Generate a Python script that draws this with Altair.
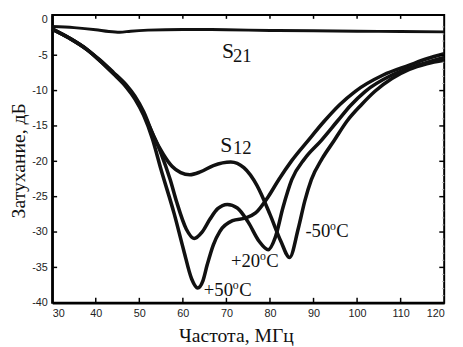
import altair as alt
import pandas as pd

# ---- data ----
F_M50 = [30, 34, 38, 41, 44, 47, 49, 51, 53.4, 55.5, 57.5, 59.5, 61.6, 64, 67, 71, 74, 77, 80, 82.5,
         84.5, 86.5, 88, 89.5, 92, 94.7, 97.7, 101, 104.1, 108, 112, 116, 120]
V_M50 = [-1.3, -2.6, -4.2, -5.7, -7.4, -9.2, -10.8, -13.0, -16.6, -19.0, -20.7, -21.6, -21.9, -21.5,
         -20.6, -20.1, -20.9, -23.4, -27.5, -31.3, -33.6, -29.5, -25.6, -22.6, -19.6, -17.1, -14.3,
         -12.0, -10.1, -8.3, -7.0, -6.2, -5.7]

F_P20 = [30, 34, 38, 41, 44, 47, 49, 51, 53, 55, 57.1, 58.6, 60.8, 62.6, 64.4, 66.2, 68, 70.2, 72.5,
         75, 77.5, 79.6, 81.2, 83, 85, 88, 91.7, 95.5, 98.5, 101.9, 108, 114.5, 120]
V_P20 = [-1.3, -2.6, -4.2, -5.8, -7.5, -9.4, -11.0, -13.3, -16.0, -18.9, -22.6, -25.8, -29.6, -30.9,
         -30.0, -28.2, -26.7, -26.1, -26.6, -28.6, -31.3, -32.5, -30.8, -26.5, -22.6, -19.6, -17.1,
         -14.3, -12.1, -10.1, -7.8, -6.3, -5.3]

F_P50 = [30, 34, 38, 41, 44, 47, 49, 51, 53, 55, 58, 60.2, 62, 63.4, 64.6, 65.6, 67, 68.5, 71.4, 74.4,
         76.7, 79.6, 82, 85, 88.7, 92.5, 96, 99.6, 106, 112, 116, 120]
V_P50 = [-1.3, -2.6, -4.2, -5.8, -7.6, -9.5, -11.2, -13.5, -16.8, -21.2, -27.4, -32.6, -36.6, -37.9,
         -36.9, -34.6, -31.8, -29.9, -28.4, -28.0, -27.3, -25.0, -22.6, -19.9, -17.1, -14.3, -12.0,
         -10.1, -7.8, -6.4, -5.5, -4.8]

F_S21 = [30, 35, 40, 43, 45.5, 48, 52, 60, 70, 80, 90, 100, 110, 120]
V_S21 = [-0.95, -1.1, -1.4, -1.65, -1.75, -1.6, -1.45, -1.35, -1.4, -1.5, -1.55, -1.6, -1.65, -1.7]

X_TICKS = [30, 40, 50, 60, 70, 80, 90, 100, 110, 120]
Y_TICKS = [0, -5, -10, -15, -20, -25, -30, -35, -40]
Y_MINOR = [v for v in range(0, -41, -1) if v % 5 != 0]

X_TITLE = "Частота, МГц"
Y_TITLE = "Затухание, дБ"

# ---- chart ----
W, H = 399, 293
XS = alt.Scale(domain=[30, 120], nice=False, zero=False)
YS = alt.Scale(domain=[-40, 0.7], nice=False, zero=False)
INK = "#111111"

rows = []
for name, fs, vs in [("-50", F_M50, V_M50), ("+20", F_P20, V_P20), ("+50", F_P50, V_P50)]:
    rows += [{"series": name, "f": f, "v": v} for f, v in zip(fs, vs)]
s12_df = pd.DataFrame(rows)
s21_df = pd.DataFrame({"f": F_S21, "v": V_S21})

x_axis = alt.Axis(values=X_TICKS, ticks=False, grid=False, domain=True, domainColor="black",
                  domainWidth=2.5, labelFont="Liberation Sans", labelFontSize=11, labelColor="#222",
                  labelPadding=5, title=X_TITLE, titleFont="Liberation Serif", titleFontSize=20,
                  titleFontWeight="normal", titleColor=INK, titleX=187, titleY=39,
                  titleBaseline="alphabetic", titleAlign="center")
y_axis = alt.Axis(values=Y_TICKS, ticks=False, grid=False, domain=True, domainColor="black",
                  domainWidth=2.5, labelFont="Liberation Sans", labelFontSize=11, labelColor="#222",
                  labelPadding=5, labelExpr="'' + datum.value", title=Y_TITLE,
                  titleFont="Liberation Serif", titleFontSize=20, titleFontWeight="normal",
                  titleColor=INK, titleX=-28, titleY=148, titleBaseline="alphabetic",
                  titleAlign="center")

def X(field):
    return alt.X(field, scale=XS, axis=x_axis)

def Y(field):
    return alt.Y(field, scale=YS, axis=y_axis)

s12 = alt.Chart(s12_df).mark_line(color=INK, strokeWidth=3.6, interpolate="monotone").encode(
    x=X("f:Q"), y=Y("v:Q"), detail="series:N")
s21 = alt.Chart(s21_df).mark_line(color=INK, strokeWidth=3.0, interpolate="monotone").encode(
    x=X("f:Q"), y=Y("v:Q"))

xt = pd.DataFrame({"f": X_TICKS[1:-1]})
yt = pd.DataFrame({"v": Y_TICKS[1:-1]})
ym = pd.DataFrame({"v": Y_MINOR})

def xticks(y0, y1):
    return alt.Chart(xt).mark_rule(color="black", strokeWidth=1.5).encode(
        x=X("f:Q"), y=alt.value(y0), y2=alt.value(y1))

def yticks(df, x0, x1, color="black", sw=1.5):
    return alt.Chart(df).mark_rule(color=color, strokeWidth=sw).encode(
        y=Y("v:Q"), x=alt.value(x0), x2=alt.value(x1))

ticks = [xticks(H, H - 5), xticks(0, 4), yticks(yt, 0, 5), yticks(yt, W, W - 5),
         yticks(ym, W, W - 2, color="#aaaaaa", sw=1)]

def txt(s, f, v, size, dx=0, dy=0):
    d = pd.DataFrame({"f": [f], "v": [v], "s": [s]})
    return alt.Chart(d).mark_text(align="left", baseline="alphabetic", font="Liberation Serif",
                                  fontSize=size, dx=dx, dy=dy, color=INK).encode(
        x=X("f:Q"), y=Y("v:Q"), text="s:N")

labels = [
    txt("S", 69.0, -5.42, 22), txt("21", 71.5, -5.9, 19),
    txt("S", 68.6, -18.7, 22), txt("12", 71.5, -18.9, 19),
    txt("-50", 88.13, -30.74, 19), txt("o", 88.13, -30.74, 12, dx=25, dy=-7),
    txt("C", 88.13, -30.74, 19, dx=31.5),
    txt("+20", 71.05, -34.9, 19), txt("o", 71.05, -34.9, 12, dx=29.5, dy=-7),
    txt("C", 71.05, -34.9, 19, dx=36),
    txt("+50", 64.8, -39.07, 19), txt("o", 64.8, -39.07, 12, dx=29.5, dy=-7),
    txt("C", 64.8, -39.07, 19, dx=36),
]

chart = alt.layer(s12, s21, *ticks, *labels).properties(
    width=W, height=H,
    padding={"left": 45, "top": 4, "right": 11, "bottom": 42},
    autosize=alt.AutoSizeParams(type="none"),
).configure_view(stroke="black", strokeWidth=2)

chart.save("out.html", embed_options={"renderer": "svg", "actions": False})
